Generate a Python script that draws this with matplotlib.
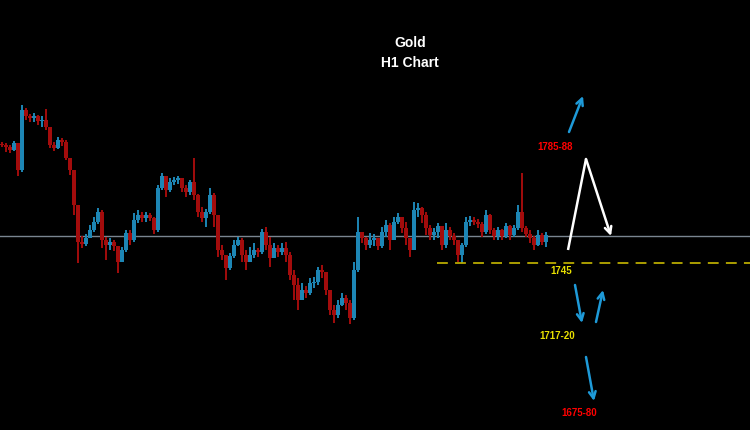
import matplotlib
matplotlib.use('Agg')
import matplotlib.pyplot as plt
import numpy as np

# ---------------- data (Gold H1 candles) ----------------
first_open = 1792.4
closes = [1792.0, 1791.2, 1790.0, 1792.8, 1782.0, 1806.0, 1803.6, 1802.8, 1803.6, 1801.6,
          1802.0, 1799.2, 1792.0, 1790.8, 1794.0, 1793.2, 1786.8, 1782.0, 1768.0, 1753.2,
          1752.4, 1754.8, 1758.0, 1761.2, 1765.2, 1754.0, 1752.0, 1753.2, 1751.6, 1745.2,
          1750.0, 1756.8, 1754.0, 1762.0, 1764.0, 1762.8, 1764.0, 1762.8, 1758.0, 1774.8,
          1779.6, 1774.0, 1777.2, 1778.0, 1778.8, 1774.8, 1773.2, 1777.2, 1772.0, 1765.2,
          1762.8, 1765.2, 1772.0, 1764.0, 1750.0, 1748.0, 1742.8, 1747.6, 1752.0, 1754.0,
          1748.0, 1745.2, 1748.0, 1750.0, 1749.2, 1757.2, 1752.0, 1746.8, 1750.8, 1749.2,
          1750.8, 1748.0, 1740.0, 1736.0, 1730.0, 1734.0, 1732.8, 1736.8, 1737.2, 1742.0,
          1741.2, 1734.0, 1726.0, 1724.0, 1728.0, 1730.8, 1728.8, 1722.8, 1742.0, 1757.2,
          1754.8, 1752.0, 1754.0, 1754.8, 1751.6, 1757.2, 1760.0, 1754.0, 1761.2, 1763.2,
          1758.8, 1754.8, 1750.0, 1766.0, 1766.8, 1764.0, 1758.8, 1756.0, 1757.2, 1759.6,
          1752.0, 1758.0, 1755.6, 1754.0, 1748.0, 1752.0, 1761.2, 1762.0, 1761.2, 1760.4,
          1757.2, 1764.0, 1758.0, 1755.6, 1758.0, 1755.6, 1759.6, 1756.0, 1758.8, 1765.2,
          1758.8, 1756.4, 1754.8, 1752.0, 1756.0, 1753.2, 1756.0]
highs = [1793.2, 1792.8, 1792.0, 1793.6, 1792.0, 1808.0, 1806.8, 1804.4, 1804.8, 1804.0,
         1803.6, 1806.4, 1799.2, 1793.2, 1795.2, 1794.8, 1794.0, 1786.8, 1776.0, 1768.0,
         1755.6, 1756.4, 1760.0, 1763.2, 1766.8, 1766.0, 1755.2, 1754.8, 1754.0, 1751.6,
         1751.2, 1758.0, 1758.0, 1764.8, 1766.0, 1765.2, 1765.2, 1764.8, 1763.2, 1776.0,
         1780.8, 1779.6, 1778.8, 1779.2, 1779.6, 1778.4, 1776.0, 1778.0, 1786.8, 1772.4,
         1767.2, 1766.4, 1774.8, 1772.8, 1764.0, 1752.0, 1748.0, 1748.8, 1754.0, 1755.2,
         1754.8, 1750.0, 1751.2, 1752.8, 1750.8, 1758.4, 1759.2, 1755.2, 1752.8, 1752.0,
         1752.8, 1753.2, 1749.2, 1742.0, 1738.8, 1736.8, 1735.6, 1738.8, 1739.2, 1743.2,
         1744.0, 1741.2, 1734.0, 1728.0, 1730.0, 1732.8, 1732.0, 1730.0, 1745.2, 1763.2,
         1757.2, 1755.2, 1756.8, 1756.4, 1754.8, 1759.2, 1762.0, 1760.8, 1763.2, 1764.8,
         1762.0, 1761.2, 1754.8, 1769.2, 1768.8, 1767.2, 1765.2, 1760.0, 1758.8, 1760.8,
         1759.6, 1760.8, 1759.2, 1756.8, 1754.0, 1752.8, 1763.2, 1763.6, 1763.2, 1762.4,
         1761.2, 1766.0, 1764.4, 1758.8, 1759.2, 1758.4, 1760.8, 1760.0, 1760.0, 1768.0,
         1780.8, 1759.6, 1758.0, 1755.6, 1758.0, 1756.8, 1757.2]
lows = [1791.2, 1789.2, 1788.8, 1789.6, 1779.6, 1781.2, 1802.0, 1801.2, 1801.2, 1800.0,
        1799.2, 1798.0, 1790.8, 1789.6, 1790.4, 1791.6, 1786.0, 1780.0, 1764.0, 1744.8,
        1750.8, 1751.6, 1755.2, 1757.2, 1760.4, 1750.8, 1746.0, 1750.0, 1749.6, 1740.8,
        1745.2, 1749.2, 1752.0, 1753.2, 1760.8, 1761.2, 1761.2, 1761.6, 1756.4, 1757.2,
        1774.0, 1771.2, 1773.2, 1776.0, 1776.4, 1773.2, 1771.2, 1772.0, 1770.0, 1763.2,
        1761.2, 1759.2, 1764.4, 1759.2, 1747.2, 1746.0, 1738.0, 1742.0, 1746.8, 1751.6,
        1745.2, 1742.0, 1745.2, 1746.8, 1747.2, 1748.4, 1750.0, 1743.2, 1747.2, 1747.2,
        1748.0, 1745.2, 1738.0, 1730.0, 1726.0, 1730.8, 1730.8, 1732.0, 1734.8, 1736.0,
        1738.8, 1732.0, 1724.0, 1720.8, 1722.8, 1727.6, 1726.0, 1720.4, 1722.0, 1741.2,
        1752.8, 1750.0, 1750.8, 1751.6, 1750.0, 1750.8, 1755.2, 1750.0, 1754.0, 1760.4,
        1756.8, 1752.0, 1747.2, 1750.0, 1763.2, 1760.8, 1756.0, 1754.0, 1754.0, 1754.8,
        1750.0, 1750.8, 1754.0, 1752.0, 1745.2, 1744.8, 1751.2, 1759.6, 1760.0, 1758.8,
        1755.2, 1756.4, 1756.4, 1754.0, 1754.0, 1754.0, 1754.8, 1754.0, 1755.2, 1758.0,
        1757.2, 1755.2, 1752.8, 1750.0, 1751.6, 1752.0, 1751.2]
current_price = 1755.6
support_level = 1745.0
title_lines = ["Gold", "H1 Chart"]
target_labels = ["1785-88", "1745", "1717-20", "1675-80"]

# ---------------- styling ----------------
UP = '#1d86b5'
DOWN = '#a30c0c'
ARROW_BLUE = '#1e9ad8'
YELLOW = '#e8e000'
RED_TXT = '#ff0000'
W, H = 750, 430

fig = plt.figure(figsize=(7.5, 4.3), dpi=100, facecolor='black')
ax = fig.add_axes([0, 0, 1, 1], facecolor='black')
ax.set_xlim(-0.5, 187)
ax.set_ylim(1678, 1850)
ax.axis('off')

c = np.array(closes)
o = np.r_[first_open, c[:-1]]
h = np.array(highs)
l = np.array(lows)
x = np.arange(len(c))
cols = np.where(c >= o, UP, DOWN)
top = np.maximum.reduce([h, o, c])
bot = np.minimum.reduce([l, o, c])

ax.axhline(current_price, color='#7a8590', lw=1.0, zorder=1)
ax.vlines(x, bot, top, colors=cols, lw=1.4, zorder=2)
ax.bar(x, np.maximum(np.abs(c - o), 0.4), bottom=np.minimum(o, c), width=0.85,
       color=cols, lw=0, zorder=3)

# support dashed line
ax.hlines(support_level, 108.75, 187, colors='#b8aa00', lw=1.3,
          linestyles=(0, (6, 4)), zorder=2)


def P(px, py):
    return (px / W, 1 - py / H)


txt_kw = dict(transform=ax.transAxes, ha='center', va='center',
              family=['Liberation Sans', 'DejaVu Sans'], fontweight='bold')

ax.text(*P(410, 43), title_lines[0], color='white', fontsize=10, **txt_kw)
ax.text(*P(410, 63), title_lines[1], color='white', fontsize=10, **txt_kw)

ax.text(*P(555, 147), target_labels[0], color=RED_TXT, fontsize=7, **txt_kw)
ax.text(*P(561, 271), target_labels[1], color=YELLOW, fontsize=7, **txt_kw)
ax.text(*P(557, 336), target_labels[2], color=YELLOW, fontsize=7, **txt_kw)
ax.text(*P(579, 413), target_labels[3], color=RED_TXT, fontsize=7, **txt_kw)


def arrow(tail, head, color, lw=1.8):
    ax.annotate('', xy=P(*head), xytext=P(*tail), xycoords='axes fraction',
                textcoords='axes fraction',
                arrowprops=dict(arrowstyle='->', color=color, lw=lw,
                                mutation_scale=12, shrinkA=0, shrinkB=0))


arrow((569, 132), (583, 96), ARROW_BLUE)
arrow((575, 285), (582, 323), ARROW_BLUE)
arrow((596, 322), (603, 290), ARROW_BLUE)
arrow((586, 357), (594, 401), ARROW_BLUE)

# white path: up then down
ax.plot([568 / W, 586 / W], [1 - 250 / H, 1 - 159 / H], transform=ax.transAxes,
        color='white', lw=1.8, solid_capstyle='butt')
arrow((586, 159), (611, 236), 'white')

fig.savefig('out.png', dpi=100, facecolor='black')
